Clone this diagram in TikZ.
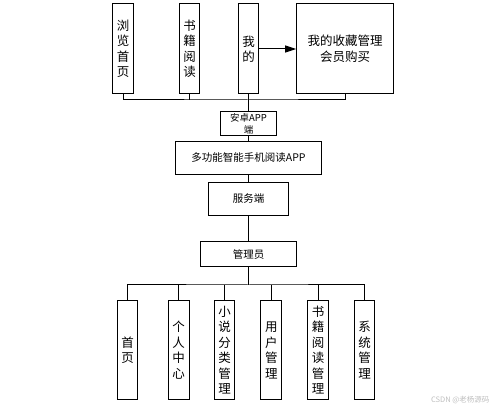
\documentclass[tikz,border=0pt]{standalone}
\usepackage{fontspec}
\newfontfamily\cjk{Noto Sans CJK SC}
\usetikzlibrary{arrows.meta, positioning, calc}

\tikzset{
  colbox/.style={draw, line width=1pt, inner sep=0pt, align=center, minimum width=20.7pt,
    font=\cjk\fontsize{12.5}{15.5}\selectfont},
  midbox/.style={draw, line width=1pt, inner sep=0pt, align=center,
    font=\cjk\fontsize{10.5}{12}\selectfont},
  link/.style={line width=1pt}
}

\begin{document}
\begin{tikzpicture}[x=1pt, y=-1pt]
  \useasboundingbox (0,0) rectangle (499,411);
  % client side
  \node[colbox, minimum height=90pt] (browse) at (123,49) {浏\\览\\首\\页};
  \node[colbox, minimum height=90pt] (read) at (189.5,49) {书\\籍\\阅\\读};
  \node[colbox, minimum height=90pt] (mine) at (248.5,49) {我\\的};
  \node[colbox, minimum width=96.6pt, minimum height=90pt] (collect) at (345,49) {我的收藏管理\\会员购买};
  \node[midbox, minimum width=56pt, minimum height=24pt, font=\cjk\fontsize{9.5}{11.5}\selectfont] (android) at (248.5,123.7) {安卓APP\\端};
  \node[midbox, minimum width=145.7pt, minimum height=33.3pt] (app) at (248.5,157.7) {多功能智能手机阅读APP};
  \node[midbox, minimum width=80pt, minimum height=33.7pt] (server) at (248.5,199) {服务端};
  \node[midbox, minimum width=96pt, minimum height=25.3pt] (admin) at (248.5,254.3) {管理员};
  % admin side
  \node[colbox, minimum height=99.3pt] (home) at (127.5,350.3) {首\\页};
  \node[colbox, minimum height=99.3pt] (center) at (178.7,350.3) {个\\人\\中\\心};
  \node[colbox, minimum height=99.3pt] (novel) at (224.5,350.3) {小\\说\\分\\类\\管\\理};
  \node[colbox, minimum height=99.3pt] (user) at (271.3,350.3) {用\\户\\管\\理};
  \node[colbox, minimum height=99.3pt] (book) at (318,350.3) {书\\籍\\阅\\读\\管\\理};
  \node[colbox, minimum height=99.3pt] (system) at (364.5,350.3) {系\\统\\管\\理};

  \coordinate (topbus) at (248.5,100);
  \coordinate (botbus) at (248.5,285);

  \draw[link] (browse.south) |- (topbus) -| (collect.south);
  \draw[link] (read.south) -- (read.south |- topbus);
  \draw[link] (mine.south) -- (android.north);
  \draw[link, -{Triangle[length=11pt, width=7pt]}] (mine.east) -- (collect.west);
  \draw[link] (android) -- (app);
  \draw[link] (app) -- (server);
  \draw[link] (server) -- (admin);
  \draw[link] (admin.south) -- (botbus);
  \draw[link] (home.north) |- (botbus) -| (system.north);
  \foreach \n in {center, novel, user, book}
    \draw[link] (\n.north) -- (\n.north |- botbus);

  \node[text=black!25, font=\cjk\fontsize{7.5}{9}\selectfont, anchor=east] (mark) at (493,400) {CSDN @老杨源码};
\end{tikzpicture}
\end{document}
